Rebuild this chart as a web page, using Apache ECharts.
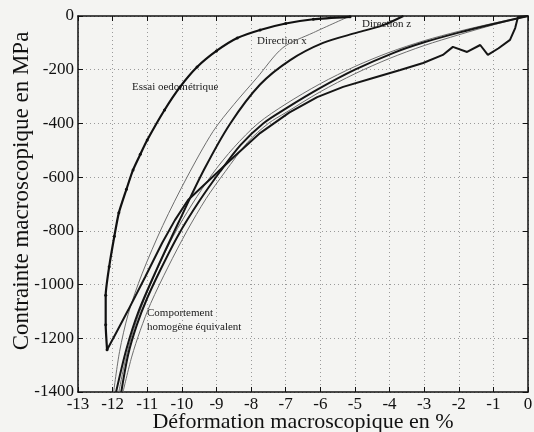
<!DOCTYPE html>
<html>
<head>
<meta charset="utf-8">
<script src="https://cdn.jsdelivr.net/npm/echarts@6/dist/echarts.min.js"></script>
<style>
  html, body { margin: 0; padding: 0; background: #f4f4f2; }
  #chart { width: 534px; height: 432px; }
</style>
</head>
<body>
<div id="chart"></div>
<script>
// [deformation %, contrainte MPa]
const essaiCharge = [[0, 0], [-0.29, -4], [-0.37, -45], [-0.52, -89], [-0.85, -120], [-1.16, -145], [-1.38, -108],
  [-1.76, -134], [-2.17, -115], [-2.46, -145], [-3.03, -175], [-3.69, -201], [-4.5, -232], [-5.34, -264],
  [-6.09, -302], [-6.9, -360], [-7.74, -436], [-8.5, -525], [-9.2, -610], [-9.82, -685], [-10.2, -760],
  [-10.57, -845], [-11.06, -972], [-11.55, -1095], [-11.9, -1180], [-12.16, -1243]]
const essaiDecharge = [[-12.16, -1243], [-12.2, -1150], [-12.2, -1040], [-12.1, -934], [-11.95, -820],
  [-11.82, -733], [-11.6, -645], [-11.41, -573], [-11.2, -515], [-11.0, -462], [-10.5, -350], [-10.05, -264],
  [-9.56, -190], [-9.0, -130], [-8.4, -82], [-7.74, -52], [-7.0, -28], [-6.2, -12], [-5.14, -3]]
const dirXDecharge = [[-5.14, 0], [-6.2, -62], [-7.08, -118], [-7.83, -230], [-8.5, -330], [-9.1, -430],
  [-9.85, -600], [-10.55, -780], [-11.15, -960], [-11.55, -1110], [-11.8, -1250], [-11.97, -1400]]
const dirZDecharge = [[-3.6, 0], [-4.2, -35], [-4.94, -62], [-5.92, -100], [-6.87, -164], [-7.74, -255],
  [-8.6, -400], [-9.35, -570], [-10.1, -770], [-10.75, -950], [-11.25, -1100], [-11.6, -1240], [-11.9, -1400]]
const charge1 = [[0, 0], [-1, -30], [-2, -62], [-3, -98], [-3.9, -138], [-5, -200], [-6, -268], [-7, -345],
  [-7.65, -400], [-8.3, -480], [-8.9, -580], [-9.5, -690], [-10.1, -815], [-10.6, -940], [-11.0, -1050],
  [-11.3, -1150], [-11.55, -1260], [-11.75, -1400]]
const charge2 = [[0, 0], [-1, -27], [-2, -57], [-3, -92], [-4, -135], [-5, -188], [-6, -252], [-7, -328],
  [-7.8, -400], [-8.5, -490], [-9.1, -585], [-9.7, -700], [-10.25, -820], [-10.72, -945], [-11.1, -1060],
  [-11.4, -1170], [-11.63, -1280], [-11.82, -1400]]
const homogene = [[0, 0], [-1, -33], [-2, -70], [-3, -110], [-4, -158], [-5, -215], [-6, -282], [-7, -360],
  [-7.5, -400], [-8.1, -470], [-8.75, -580], [-9.3, -680], [-9.85, -800], [-10.4, -935], [-10.9, -1070],
  [-11.2, -1170], [-11.45, -1270], [-11.7, -1400]]

const xTicks = { min: -13, max: 0, interval: 1 }
const yTicks = { min: -1400, max: 0, interval: 200 }

const serif = 'Liberation Serif'
const thick = { color: '#151515', width: 2 }
const thin = { color: '#6e6e6e', width: 1 }

const chart = echarts.init(document.getElementById('chart'))

const line = (data, style, extra) => Object.assign({
  type: 'line',
  data: data,
  xAxisIndex: 0,
  yAxisIndex: 0,
  showSymbol: false,
  symbol: 'none',
  smooth: 0.3,
  lineStyle: style,
  animation: false
}, extra || {})

const label = (text, left, top) => ({
  type: 'text', left: left, top: top,
  style: { text: text, font: '11px ' + serif, fill: '#1a1a1a' }
})

const frame = { onZero: false, lineStyle: { color: '#111', width: 1.5 } }
const ticks = { inside: true, length: 5, lineStyle: { color: '#111' } }
const dotted = { show: true, lineStyle: { color: '#9a9a9a', type: [1, 3] } }

chart.setOption({
  backgroundColor: '#f4f4f2',
  grid: { left: 78, right: 6, top: 16, bottom: 40, containLabel: false, outerBoundsMode: 'none' },
  xAxis: [{
    type: 'value',
    min: xTicks.min, max: xTicks.max, interval: xTicks.interval,
    position: 'bottom',
    name: 'Déformation macroscopique en %',
    nameLocation: 'middle',
    nameGap: 19,
    nameMoveOverlap: false,
    nameTextStyle: { fontFamily: serif, fontSize: 22, color: '#111' },
    axisLine: frame,
    axisTick: ticks,
    axisLabel: { fontFamily: serif, fontSize: 17, color: '#111', margin: 4, formatter: v => String(v) },
    splitLine: dotted
  }, {
    type: 'value',
    min: xTicks.min, max: xTicks.max, interval: xTicks.interval,
    position: 'top',
    axisLine: frame,
    axisTick: ticks,
    axisLabel: { show: false },
    splitLine: { show: false }
  }],
  yAxis: [{
    type: 'value',
    min: yTicks.min, max: yTicks.max, interval: yTicks.interval,
    position: 'left',
    name: 'Contrainte macroscopique en MPa',
    nameLocation: 'middle',
    nameGap: 45,
    nameMoveOverlap: false,
    nameTextStyle: { fontFamily: serif, fontSize: 23, color: '#111', padding: [0, 0, 0, 26] },
    axisLine: frame,
    axisTick: ticks,
    axisLabel: { fontFamily: serif, fontSize: 17, color: '#111', margin: 4, formatter: v => String(v) },
    splitLine: dotted
  }, {
    type: 'value',
    min: yTicks.min, max: yTicks.max, interval: yTicks.interval,
    position: 'right',
    axisLine: frame,
    axisTick: ticks,
    axisLabel: { show: false },
    splitLine: { show: false }
  }],
  series: [
    line(homogene, thin),
    line(charge2, thin),
    line(dirXDecharge, thin),
    line(charge1, thick),
    line(dirZDecharge, thick),
    line(essaiCharge, thick, { smooth: false }),
    line(essaiDecharge, { color: '#111', width: 2.2 }, {
      smooth: 0.2, showSymbol: true, symbol: 'circle', symbolSize: 3,
      itemStyle: { color: '#111' }
    })
  ],
  graphic: [
    label('Essai oedométrique', 132, 82),
    label('Direction x', 257, 36),
    label('Direction z', 362, 19),
    label('Comportement', 147, 308),
    label('homogène équivalent', 147, 322)
  ]
})
</script>
</body>
</html>
